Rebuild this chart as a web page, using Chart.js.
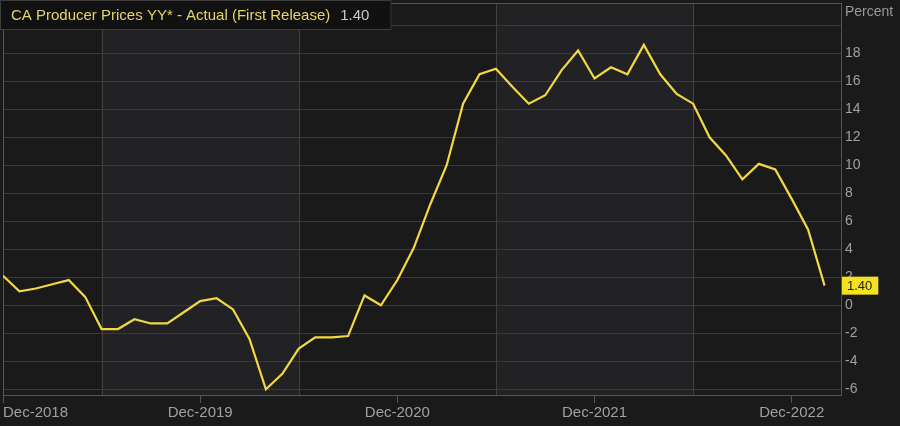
<!DOCTYPE html>
<html>
<head>
<meta charset="utf-8">
<script src="https://cdn.jsdelivr.net/npm/chart.js@4"></script>
<style>
  html, body { margin: 0; padding: 0; background: #1a1a1a; }
  #wrap { width: 900px; height: 426px; position: relative; }
</style>
</head>
<body>
<div id="wrap"><canvas id="c" width="900" height="426"></canvas></div>
<script>
// ---- data ----
const months = [
  "Dec-2018","Jan-2019","Feb-2019","Mar-2019","Apr-2019","May-2019","Jun-2019","Jul-2019","Aug-2019","Sep-2019","Oct-2019","Nov-2019",
  "Dec-2019","Jan-2020","Feb-2020","Mar-2020","Apr-2020","May-2020","Jun-2020","Jul-2020","Aug-2020","Sep-2020","Oct-2020","Nov-2020",
  "Dec-2020","Jan-2021","Feb-2021","Mar-2021","Apr-2021","May-2021","Jun-2021","Jul-2021","Aug-2021","Sep-2021","Oct-2021","Nov-2021",
  "Dec-2021","Jan-2022","Feb-2022","Mar-2022","Apr-2022","May-2022","Jun-2022","Jul-2022","Aug-2022","Sep-2022","Oct-2022","Nov-2022",
  "Dec-2022","Jan-2023","Feb-2023"
];
const ppiYY = [
  2.1, 1.0, 1.2, 1.5, 1.8, 0.6, -1.7, -1.7, -1.0, -1.3, -1.3, -0.5,
  0.3, 0.5, -0.3, -2.4, -6.0, -4.9, -3.1, -2.3, -2.3, -2.2, 0.7, 0.0,
  1.8, 4.1, 7.2, 10.0, 14.4, 16.5, 16.9, 15.6, 14.4, 15.0, 16.8, 18.2,
  16.2, 17.0, 16.5, 18.6, 16.5, 15.1, 14.4, 12.0, 10.7, 9.0, 10.1, 9.7,
  7.6, 5.4, 1.4
];
const xTickIndex = [0, 12, 24, 36, 48];
const xTickLabels = ["Dec-2018", "Dec-2019", "Dec-2020", "Dec-2021", "Dec-2022"];
const yTicks = [-6, -4, -2, 0, 2, 4, 6, 8, 10, 12, 14, 16, 18, 20];
const shadedBands = [[6, 18], [30, 42]];   // Jun-2019..Jun-2020, Jun-2021..Jun-2022
const bandLines = [6, 18, 30, 42];
const seriesTitle = "CA Producer Prices YY* - Actual (First Release)";
const lastValueLabel = "1.40";
const lastValue = 1.40;
const unitLabel = "Percent";

const X_MIN = 0, X_MAX = 51, Y_MIN = -6.41, Y_MAX = 21.59;
const FONT = "'Liberation Sans', Arial, sans-serif";

const decor = {
  id: 'decor',
  beforeDatasetsDraw(chart) {
    const { ctx, chartArea: a, scales: { x, y } } = chart;
    ctx.save();
    ctx.fillStyle = '#222224';
    shadedBands.forEach(([s, e]) => {
      const x0 = x.getPixelForValue(s), x1 = x.getPixelForValue(e);
      ctx.fillRect(x0, a.top, x1 - x0, a.bottom - a.top);
    });
    ctx.strokeStyle = '#3a3a3a';
    ctx.lineWidth = 1;
    yTicks.forEach(v => {
      const py = Math.round(y.getPixelForValue(v)) + 0.5;
      ctx.beginPath(); ctx.moveTo(a.left, py); ctx.lineTo(a.right, py); ctx.stroke();
    });
    ctx.strokeStyle = '#424242';
    bandLines.forEach(v => {
      const px = Math.round(x.getPixelForValue(v)) + 0.5;
      ctx.beginPath(); ctx.moveTo(px, a.top); ctx.lineTo(px, a.bottom); ctx.stroke();
    });
    ctx.strokeStyle = '#555555';
    ctx.strokeRect(Math.round(a.left) + 0.5, Math.round(a.top) + 0.5,
                   Math.round(a.right - a.left), Math.round(a.bottom - a.top));
    ctx.restore();
  },
  afterDraw(chart) {
    const { ctx, chartArea: a, scales: { y } } = chart;
    ctx.save();
    ctx.font = `15px ${FONT}`;
    const tW = ctx.measureText(seriesTitle).width;
    const vW = ctx.measureText(lastValueLabel).width;
    const gap = 10;
    const boxW = 11 + tW + gap + vW + 22;
    ctx.fillStyle = '#111111';
    ctx.fillRect(0, 0, boxW, 30);
    ctx.strokeStyle = '#3c3c3c';
    ctx.strokeRect(0.5, 0.5, boxW - 1, 29);
    ctx.textBaseline = 'middle';
    ctx.textAlign = 'left';
    ctx.fillStyle = '#e8d466';
    ctx.fillText(seriesTitle, 11, 16);
    ctx.fillStyle = '#c8c8c8';
    ctx.fillText(lastValueLabel, 11 + tW + gap, 16);
    ctx.font = `14px ${FONT}`;
    ctx.fillStyle = '#9a9a9a';
    ctx.fillText(unitLabel, a.right + 4, 12);
    const py = y.getPixelForValue(lastValue);
    ctx.font = `13px ${FONT}`;
    const lw = ctx.measureText(lastValueLabel).width;
    ctx.fillStyle = '#f5e21e';
    ctx.fillRect(a.right + 1, py - 9, lw + 11, 18);
    ctx.fillStyle = '#222';
    ctx.fillText(lastValueLabel, a.right + 6, py + 0.5);
    ctx.restore();
  }
};

new Chart(document.getElementById('c'), {
  type: 'line',
  data: {
    datasets: [{
      data: ppiYY.map((v, i) => ({ x: i, y: v })),
      borderColor: '#f2d843',
      borderWidth: 2.2,
      pointRadius: 0,
      tension: 0,
      fill: false
    }]
  },
  options: {
    responsive: false,
    animation: false,
    layout: { padding: { left: 3, top: 3, right: 0, bottom: 0 } },
    plugins: { legend: { display: false }, tooltip: { enabled: false } },
    scales: {
      x: {
        type: 'linear',
        min: X_MIN, max: X_MAX,
        afterBuildTicks(scale) {
          scale.ticks = xTickIndex.concat([X_MAX]).map(v => ({ value: v }));
        },
        afterFit(scale) { scale.height = 31; scale.paddingLeft = 0; scale.paddingRight = 0; },
        border: { display: false },
        grid: {
          drawOnChartArea: false,
          drawTicks: true,
          tickLength: 8,
          color: ctx => (ctx.tick && ctx.tick.value === X_MAX) ? 'rgba(0,0,0,0)' : '#555555'
        },
        ticks: {
          autoSkip: false,
          maxRotation: 0,
          align: 'inner',
          padding: 1,
          color: '#a0a0a0',
          font: { family: FONT, size: 15 },
          callback: v => { const k = xTickIndex.indexOf(v); return k >= 0 ? xTickLabels[k] : ''; }
        }
      },
      y: {
        position: 'right',
        min: Y_MIN, max: Y_MAX,
        afterBuildTicks(scale) { scale.ticks = yTicks.map(v => ({ value: v })); },
        afterFit(scale) { scale.width = 59; scale.paddingTop = 0; scale.paddingBottom = 0; },
        border: { display: false },
        grid: { display: false, drawTicks: false },
        ticks: {
          padding: 4,
          color: '#a0a0a0',
          font: { family: FONT, size: 14 },
          callback: v => (v === 20 ? '' : String(v))
        }
      }
    }
  },
  plugins: [decor]
});
</script>
</body>
</html>
